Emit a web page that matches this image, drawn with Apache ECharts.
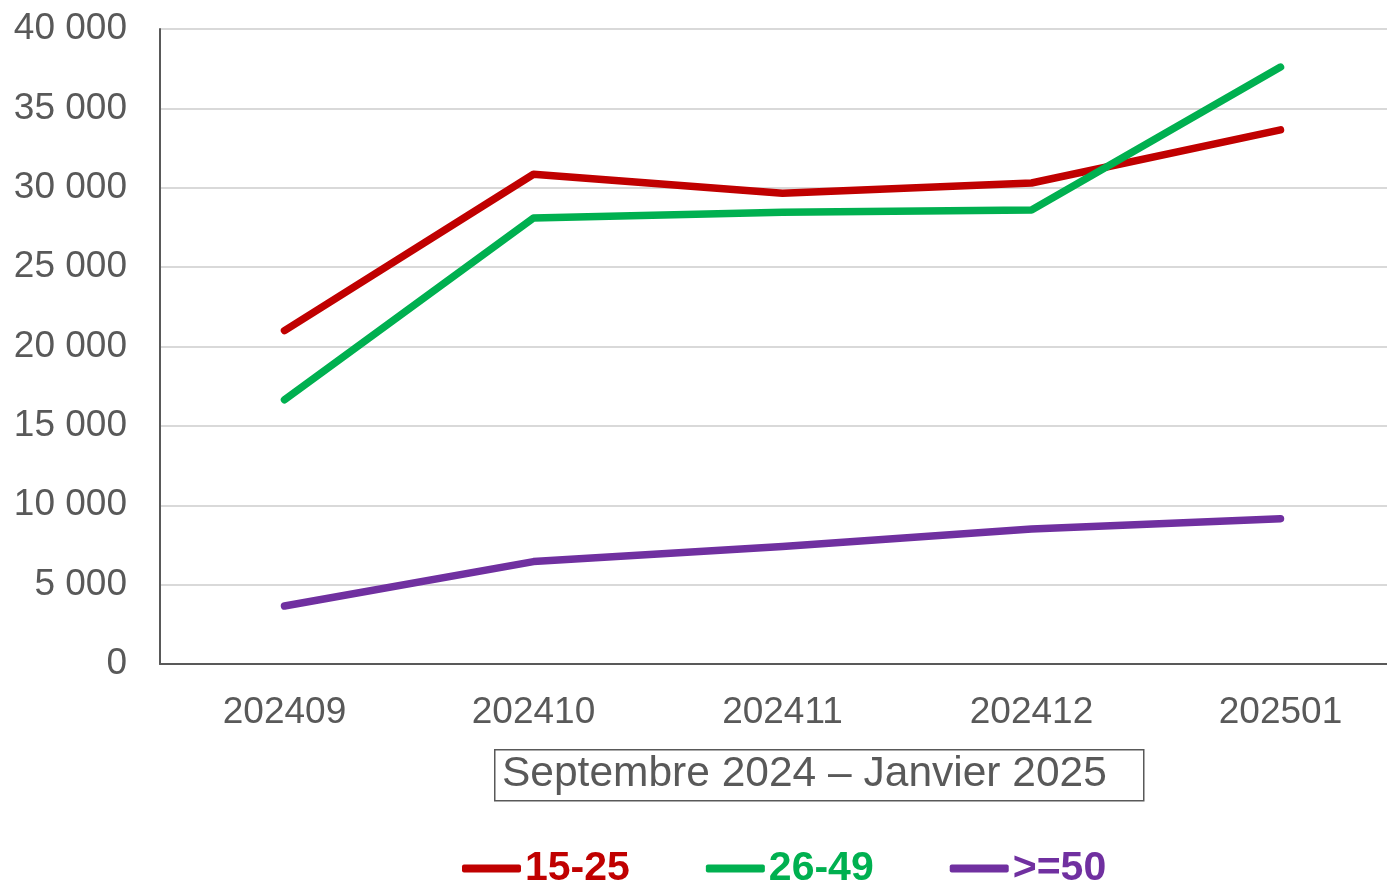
<!DOCTYPE html>
<html>
<head>
<meta charset="utf-8">
<script src="https://cdn.jsdelivr.net/npm/echarts@6/dist/echarts.min.js"></script>
<style>
  html, body { margin: 0; padding: 0; background: #fff; overflow: hidden; }
  #main { width: 1405px; height: 883px; }
</style>
</head>
<body>
<div id="main"></div>
<script>
const months = ['202409', '202410', '202411', '202412', '202501'];
const age15to25 = [21000, 30850, 29650, 30300, 33650];
const age26to49 = [16650, 28100, 28450, 28600, 37600];
const age50plus = [3650, 6450, 7400, 8500, 9150];
const yTicks = { min: 0, max: 40000, interval: 5000 };
const axisTitle = 'Septembre 2024 – Janvier 2025';

const FONT = '"Liberation Sans", Arial, sans-serif';

function fmt(v) {
  return String(v).replace(/\B(?=(\d{3})+(?!\d))/g, ' ');
}

function lineSeries(name, data, color) {
  return {
    name: name,
    type: 'line',
    data: data,
    symbol: 'none',
    color: color,
    lineStyle: { width: 7.5, color: color, cap: 'round', join: 'round' },
    emphasis: { disabled: true }
  };
}

const chart = echarts.init(document.getElementById('main'));
chart.setOption({
  animation: false,
  textStyle: { fontFamily: FONT },
  grid: { left: 160, right: 0, top: 29, bottom: 219 },
  xAxis: {
    type: 'category',
    data: months,
    boundaryGap: true,
    axisLine: { lineStyle: { color: '#595959', width: 2 } },
    axisTick: { show: false },
    axisLabel: { color: '#595959', fontSize: 37, margin: 30, fontFamily: FONT }
  },
  yAxis: {
    type: 'value',
    min: yTicks.min,
    max: yTicks.max,
    interval: yTicks.interval,
    axisLine: { show: true, lineStyle: { color: '#595959', width: 2 } },
    axisTick: { show: false },
    splitLine: { lineStyle: { color: '#d9d9d9', width: 2 } },
    axisLabel: { color: '#595959', fontSize: 37, margin: 33, fontFamily: FONT, formatter: fmt }
  },
  legend: {
    top: 843,
    left: 457,
    icon: 'roundRect',
    itemWidth: 59,
    itemHeight: 8,
    itemGap: 76,
    textStyle: { fontSize: 41, fontWeight: 'bold', fontFamily: FONT, padding: [0, 0, 0, -1] },
    data: [
      { name: '15-25', textStyle: { color: '#C00000' } },
      { name: '26-49', textStyle: { color: '#00B050' } },
      { name: '>=50', textStyle: { color: '#7030A0' } }
    ]
  },
  graphic: [
    {
      type: 'rect',
      left: 494,
      top: 749,
      shape: { width: 649, height: 51 },
      style: { fill: '#fff', stroke: '#595959', lineWidth: 1.5 }
    },
    {
      type: 'text',
      left: 502,
      top: 753,
      style: { text: axisTitle, fill: '#595959', font: '42.5px ' + FONT }
    }
  ],
  series: [
    lineSeries('15-25', age15to25, '#C00000'),
    lineSeries('26-49', age26to49, '#00B050'),
    lineSeries('>=50', age50plus, '#7030A0')
  ]
});
</script>
</body>
</html>
